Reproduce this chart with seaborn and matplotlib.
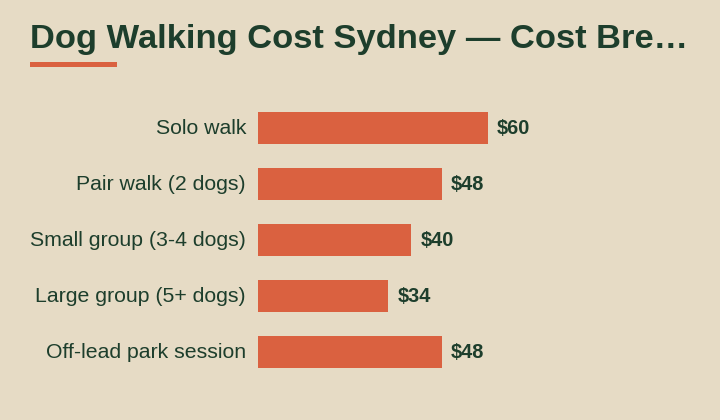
import matplotlib
matplotlib.use("Agg")
import matplotlib.pyplot as plt
import seaborn as sns
import pandas as pd
from matplotlib.transforms import offset_copy, ScaledTranslation

categories = ["Solo walk", "Pair walk (2 dogs)", "Small group (3-4 dogs)",
              "Large group (5+ dogs)", "Off-lead park session"]
costs = [60, 48, 40, 34, 48]
value_labels = ["$60", "$48", "$40", "$34", "$48"]
title = "Dog Walking Cost Sydney \u2014 Cost Bre\u2026"

BG = "#E6DBC5"
BAR = "#DA6140"
DARK = "#1D3E2C"

sns.set_theme(style="white")
plt.rcParams["font.family"] = ["Liberation Sans", "DejaVu Sans"]

df = pd.DataFrame({"category": categories, "cost": costs})

fig = plt.figure(figsize=(7.2, 4.2), dpi=100)
fig.patch.set_facecolor(BG)
ax = fig.add_axes([258 / 720, 40 / 420, 230 / 720, 280 / 420])
ax.set_facecolor(BG)

sns.barplot(data=df, x="cost", y="category", ax=ax, color=BAR,
            saturation=1, width=0.56, orient="h", linewidth=0)
ax.set_xlim(0, 60)
ax.set_ylim(4.5, -0.5)
for s in ax.spines.values():
    s.set_visible(False)
ax.set_xticks([])
ax.set_xlabel("")
ax.set_ylabel("")
ax.tick_params(axis="y", length=0, pad=8.6, labelsize=15.3, labelcolor=DARK)
shift = ScaledTranslation(0, 1.5 / 100, fig.dpi_scale_trans)
for lab in ax.get_yticklabels():
    lab.set_transform(lab.get_transform() + shift)

tr = offset_copy(ax.transData, fig=fig, x=9, y=1.5, units="dots")
for i, (v, lab) in enumerate(zip(costs, value_labels)):
    ax.text(v, i, lab, transform=tr, ha="left", va="center_baseline",
            fontsize=14.4, fontweight="bold", color=DARK, clip_on=False)

fig.text(30 / 720, 1 - 48 / 420, title, ha="left", va="baseline",
         fontsize=24.8, fontweight="bold", color=DARK)
fig.patches.append(plt.Rectangle((30 / 720, 1 - 67 / 420), 87 / 720, 5 / 420,
                                 transform=fig.transFigure, color=BAR,
                                 linewidth=0, zorder=5))

fig.savefig("out.png", dpi=100, facecolor=BG)
